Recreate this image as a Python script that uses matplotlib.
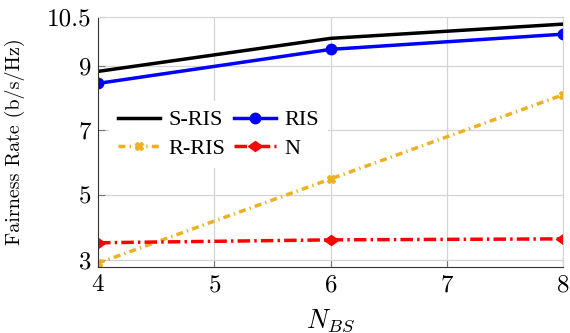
import matplotlib.pyplot as plt
from matplotlib.path import Path

plt.rcParams['font.family'] = 'serif'
plt.rcParams['font.serif'] = ['cmr10']
plt.rcParams['mathtext.fontset'] = 'cm'
plt.rcParams['axes.formatter.use_mathtext'] = True

n_bs = [4, 6, 8]
s_ris = [8.82, 9.84, 10.28]
ris = [8.45, 9.5, 9.97]
r_ris = [2.9, 5.5, 8.1]
n_only = [3.53, 3.62, 3.65]

y_ticks = [3, 5, 7, 9, 10.5]
y_tick_labels = ['3', '5', '7', '9', '10.5']
x_ticks = [4, 5, 6, 7, 8]

# wide diamond, like the pgfplots one
wide_diamond = Path([(-1, 0), (0, 0.72), (1, 0), (0, -0.72), (-1, 0)],
                    [Path.MOVETO, Path.LINETO, Path.LINETO, Path.LINETO, Path.CLOSEPOLY])

fig = plt.figure(figsize=(5.7, 3.33), dpi=100)
ax = fig.add_axes([0.172, 0.198, 0.816, 0.751])

ax.plot(n_bs, s_ris, color='black', lw=2.5, label='S-RIS')
ax.plot(n_bs, r_ris, color='#EDB120', lw=2.5, marker='X', ms=6,
        dashes=(2.0, 1.2, 0.4, 1.2), label='R-RIS')
ax.plot(n_bs, ris, color='#0000FF', lw=2.5, marker='o', ms=7.5, label='RIS')
ax.plot(n_bs, n_only, color='#FF0000', lw=2.5, marker=wide_diamond, ms=10,
        dashes=(3.6, 1.2, 0.7, 1.2), label='N')

ax.set_xlim(4, 8)
ax.set_ylim(2.78, 10.5)
ax.set_xticks(x_ticks)
ax.set_yticks(y_ticks)
ax.set_yticklabels(y_tick_labels)
ax.grid(True, color='#d4d4d4', lw=0.9)
ax.tick_params(direction='in', labelsize=18, length=5, color='#777777', pad=5)
for side in ['top', 'right']:
    ax.spines[side].set_color('#d4d4d4')
for side in ['left', 'bottom']:
    ax.spines[side].set_color('#333333')

ax.set_xlabel('$N_{BS}$', fontsize=19)
ax.xaxis.set_label_coords(0.5, -0.16)
ax.set_ylabel('Fairness Rate (b/s/Hz)', fontsize=14.5)
ax.yaxis.set_label_coords(-0.157, 0.5)

ax.legend(ncol=2, loc='upper left', bbox_to_anchor=(0.024, 0.664), frameon=True,
          edgecolor='none', framealpha=1, fancybox=False,
          prop={'family': 'Liberation Serif', 'size': 16},
          handlelength=1.9, columnspacing=0.4, handletextpad=0.36,
          labelspacing=0.35, borderpad=0.4, borderaxespad=0)

fig.savefig('out.png', dpi=100)
